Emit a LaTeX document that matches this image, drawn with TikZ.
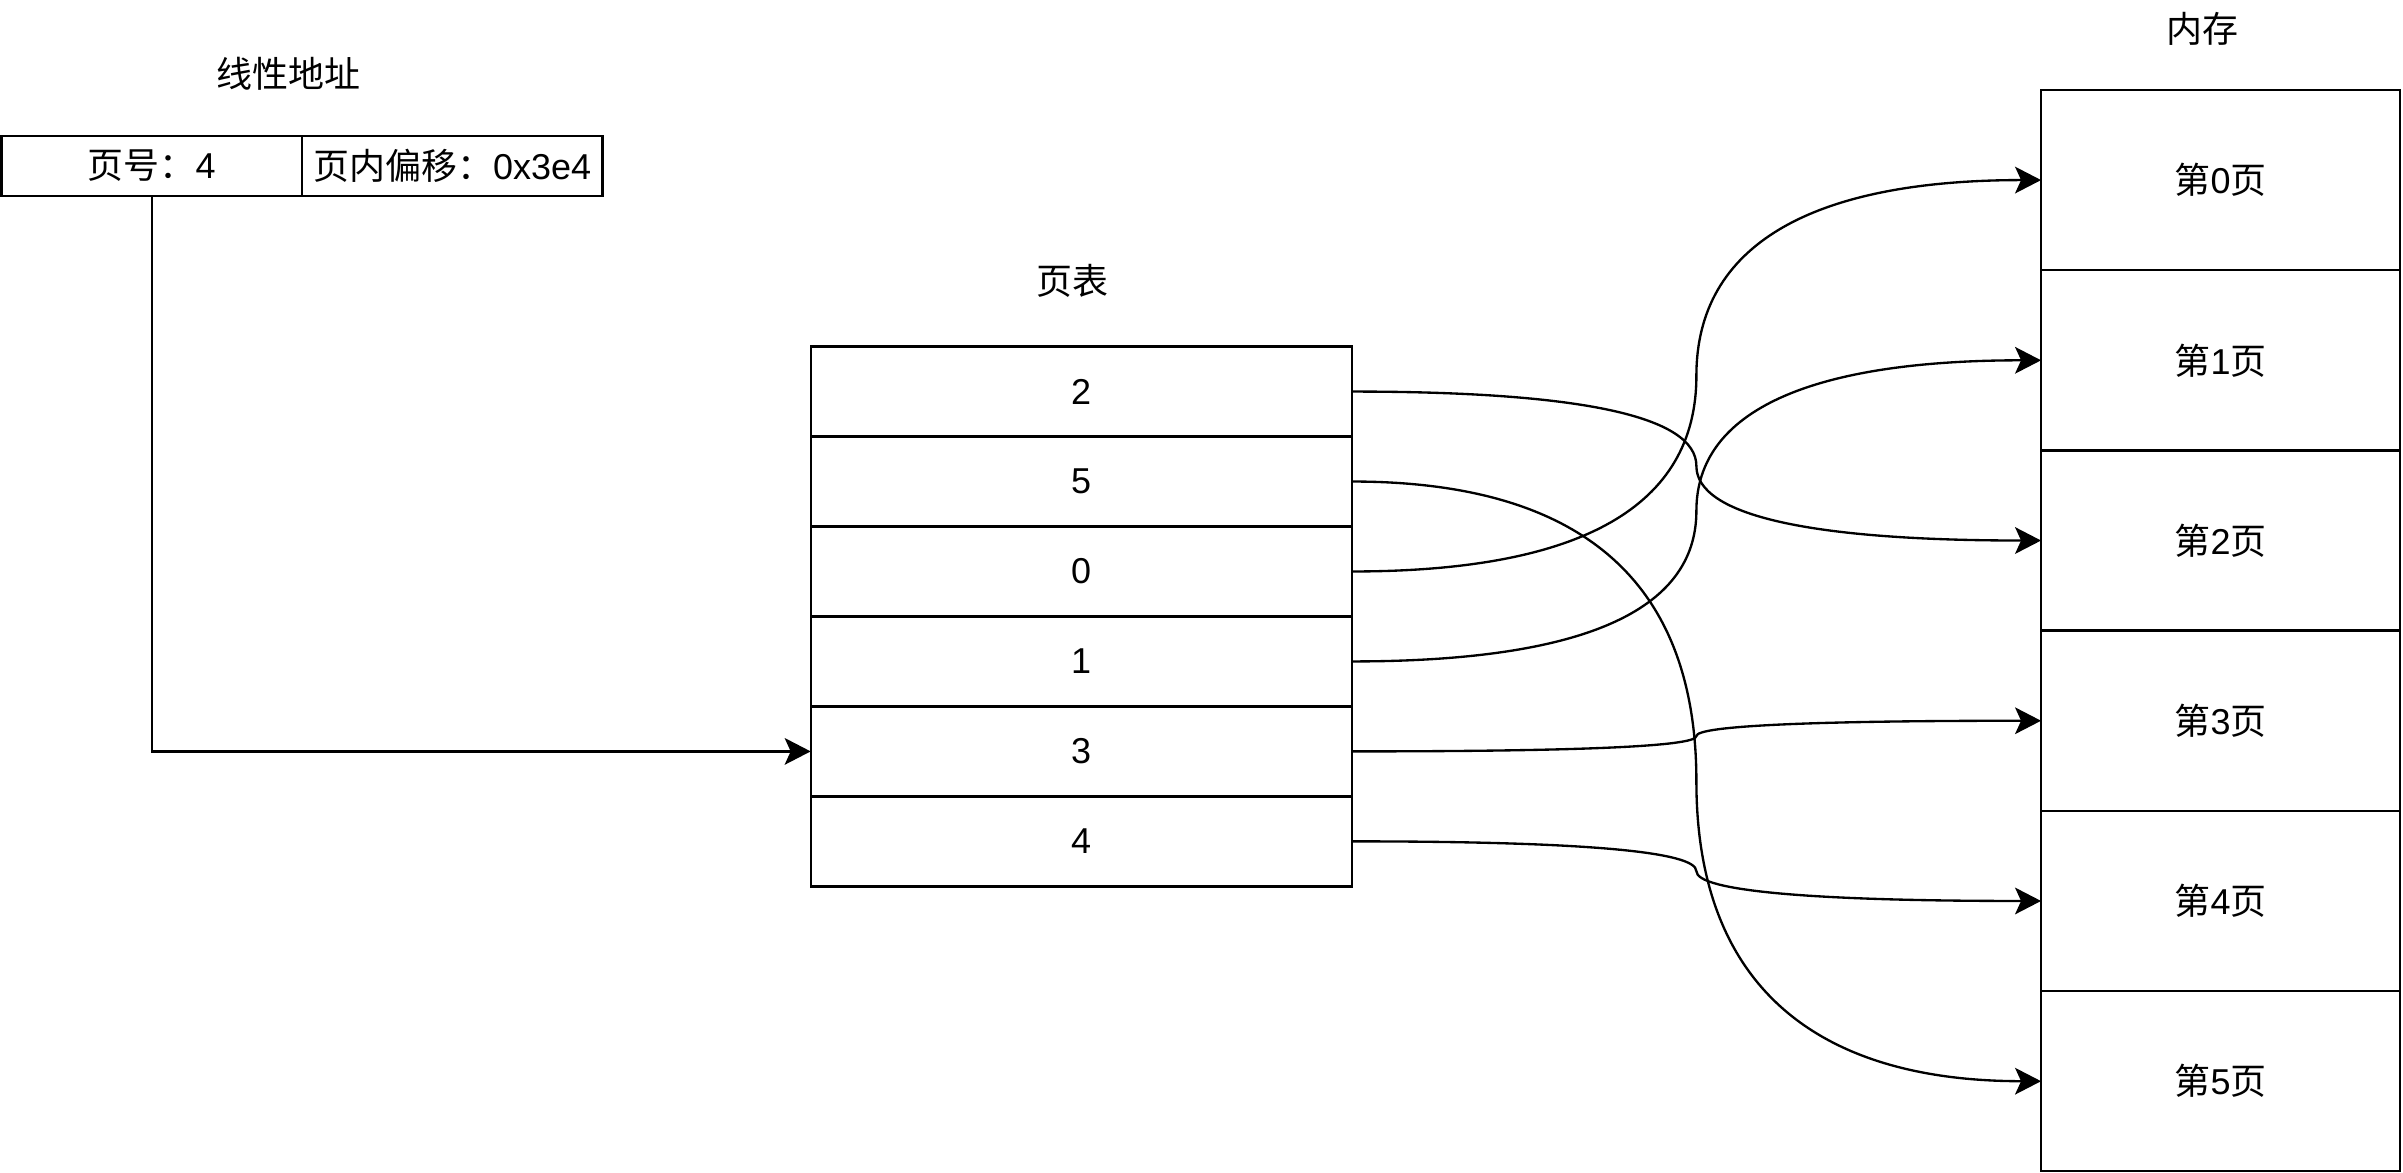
\documentclass[tikz,border=0pt]{standalone}
\usepackage{fontspec}
\setmainfont{Liberation Sans}
\newfontfamily\cjk{Noto Sans CJK SC}
\usepackage{tikz}
\usetikzlibrary{arrows.meta, calc}

\begin{document}
\begin{tikzpicture}[
    x=0.46pt, y=-0.46pt,
    line width=0.7pt, draw=black,
    every node/.style={font=\fontsize{10.8pt}{13pt}\selectfont, inner sep=0pt, outer sep=0pt},
    field/.style={draw, minimum width=90.2pt, minimum height=18pt},
    row/.style={draw, minimum width=162.4pt, minimum height=27pt},
    cell/.style={draw, minimum width=107.8pt, minimum height=54.1pt},
    title/.style={},
    link/.style={-{Stealth[length=7.8pt, width=8pt, inset=1.8pt]}}
]
\useasboundingbox (0,0) rectangle (1568,765);

% Nodes
\node[title] (tlin) at (188,48) {\cjk 线性地址};
\node[field] (pn) at (99,108.3) {{\cjk 页号：}4};
\node[field] (po) at (295,108.3) {{\cjk 页内偏移：}0x3e4};

\node[title] (ttab) at (700,183) {\cjk 页表};
\foreach \v [count=\i from 0] in {2,5,0,1,3,4}
    \node[row] (r\i) at (705.5,255.5+58.7*\i) {\v};

\node[title] (tmem) at (1437,19) {\cjk 内存};
\foreach \i in {0,...,5}
    \node[cell] (m\i) at (1449,117.5+117.6*\i) {{\cjk 第}\i{\cjk 页}};

% Links
\draw[link] (pn.south) |- (r4.west);

\draw[link] (r0.east) .. controls +(150,0) and +(0,-32.4) .. ($(r0.east)!.5!(m2.west)$)
    .. controls +(0,32.4) and +(-150,0) .. (m2.west);
\draw[link] (r1.east) .. controls +(150,0) and +(0,-130.4) .. ($(r1.east)!.5!(m5.west)$)
    .. controls +(0,130.4) and +(-150,0) .. (m5.west);
\draw[link] (r2.east) .. controls +(150,0) and +(0,85.2) .. ($(r2.east)!.5!(m0.west)$)
    .. controls +(0,-85.2) and +(-150,0) .. (m0.west);
\draw[link] (r3.east) .. controls +(150,0) and +(0,65.6) .. ($(r3.east)!.5!(m1.west)$)
    .. controls +(0,-65.6) and +(-150,0) .. (m1.west);
\draw[link] (r4.east) .. controls +(150,0) and +(0,6.7) .. ($(r4.east)!.5!(m3.west)$)
    .. controls +(0,-6.7) and +(-150,0) .. (m3.west);
\draw[link] (r5.east) .. controls +(150,0) and +(0,-12.9) .. ($(r5.east)!.5!(m4.west)$)
    .. controls +(0,12.9) and +(-150,0) .. (m4.west);

\end{tikzpicture}
\end{document}
